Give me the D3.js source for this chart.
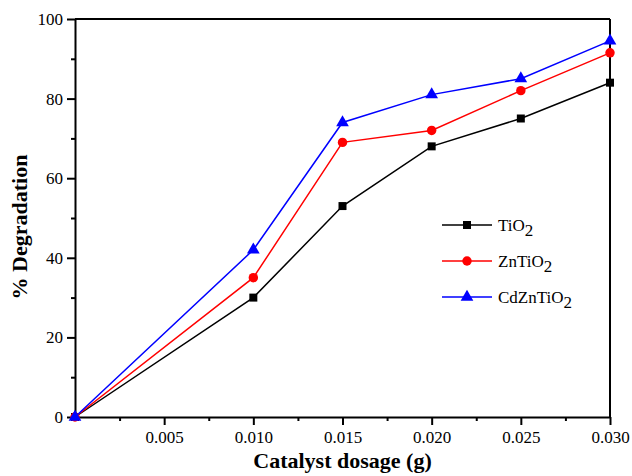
<!DOCTYPE html>
<html>
<head>
<meta charset="utf-8">
<script src="https://cdn.jsdelivr.net/npm/d3@7"></script>
<style>
  body { margin: 0; background: #fff; }
  svg text { font-family: 'Liberation Serif', 'DejaVu Serif', serif !important; }
</style>
</head>
<body>
<div id="plot"></div>
<script>
let svgWidth = 632;
let svgHeight = 476;
let margin = { top: 19, right: 22, bottom: 59, left: 75 };
let w = svgWidth - margin.left - margin.right;
let h = svgHeight - margin.top - margin.bottom;

// data
let dosage = [0, 0.010, 0.015, 0.020, 0.025, 0.030];
let tio2 = [0, 30, 53, 68, 75, 84];
let zntio2 = [0, 35, 69, 72, 82, 91.5];
let cdzntio2 = [0, 42, 74, 81, 85, 94.5];
let xTicks = [0.005, 0.010, 0.015, 0.020, 0.025, 0.030];
let yTicks = [0, 20, 40, 60, 80, 100];

let series = [
  { base: 'TiO', values: tio2, color: '#000000', shape: d3.symbolSquare, size: 64 },
  { base: 'ZnTiO', values: zntio2, color: '#ff0000', shape: d3.symbolCircle, size: 70 },
  { base: 'CdZnTiO', values: cdzntio2, color: '#0000ff', shape: d3.symbolTriangle, size: 70 }
];

let svg = d3.select('#plot')
  .append('svg')
    .attr('width', svgWidth)
    .attr('height', svgHeight);

let chart = svg.append('g')
  .attr('transform', `translate(${margin.left},${margin.top})`);

let x = d3.scaleLinear().domain([0, 0.030]).range([0, w]);
let y = d3.scaleLinear().domain([0, 100]).range([h, 0]);

// minor ticks
chart.append('g')
  .attr('transform', `translate(0,${h})`)
  .call(d3.axisBottom(x).tickValues(d3.range(0.0025, 0.030, 0.005)).tickSize(4).tickFormat(''))
  .call(g => g.select('.domain').remove())
  .selectAll('line').attr('stroke-width', 2);

chart.append('g')
  .call(d3.axisLeft(y).tickValues(d3.range(10, 100, 20)).tickSize(4).tickFormat(''))
  .call(g => g.select('.domain').remove())
  .selectAll('line').attr('stroke-width', 2);

// major axes
let xAxis = chart.append('g')
  .attr('transform', `translate(0,${h})`)
  .call(d3.axisBottom(x).tickValues(xTicks).tickSize(8).tickSizeOuter(0).tickPadding(6).tickFormat(d3.format('.3f')));

let yAxis = chart.append('g')
  .call(d3.axisLeft(y).tickValues(yTicks).tickSize(8).tickSizeOuter(0).tickPadding(4));

[xAxis, yAxis].forEach(a => {
  a.attr('font-family', null);
  a.select('.domain').attr('stroke-width', 2);
  a.selectAll('.tick line').attr('stroke-width', 2);
  a.selectAll('.tick text')
    .attr('font-size', 17)
    .attr('fill', '#000');
});

// top and right frame
chart.append('line').attr('x1', 0).attr('x2', w).attr('y1', 0).attr('y2', 0)
  .attr('stroke', '#000').attr('stroke-width', 2);
chart.append('line').attr('x1', w).attr('x2', w).attr('y1', 0).attr('y2', h)
  .attr('stroke', '#000').attr('stroke-width', 2);

let line = d3.line()
  .x((d, i) => x(dosage[i]))
  .y(d => y(d));

series.forEach(s => {
  chart.append('path')
    .datum(s.values)
    .attr('fill', 'none')
    .attr('stroke', s.color)
    .attr('stroke-width', 1.5)
    .attr('d', line);

  chart.selectAll(null)
    .data(s.values)
    .join('path')
      .attr('transform', (d, i) => `translate(${x(dosage[i])},${y(d)})`)
      .attr('d', d3.symbol().type(s.shape).size(s.size))
      .attr('fill', s.color);
});

// legend
let legend = chart.append('g')
  .attr('transform', `translate(${442 - margin.left},${225 - margin.top})`);

series.forEach((s, i) => {
  let row = legend.append('g').attr('transform', `translate(0,${i * 36})`);
  row.append('line').attr('x1', 0).attr('x2', 50)
    .attr('stroke', s.color).attr('stroke-width', 1.5);
  row.append('path')
    .attr('transform', 'translate(25,0)')
    .attr('d', d3.symbol().type(s.shape).size(s.size))
    .attr('fill', s.color);
  let t = row.append('text')
    .attr('x', 56).attr('y', 6)
    .attr('font-size', 17);
  t.append('tspan').text(s.base);
  t.append('tspan').attr('dy', 5).text('2');
});

// axis titles
svg.append('text')
  .attr('x', margin.left + w / 2)
  .attr('y', 468)
  .attr('text-anchor', 'middle')
  .attr('font-size', 22)
  .attr('font-weight', 'bold')
  .text('Catalyst dosage (g)');

svg.append('text')
  .attr('transform', 'translate(27,227) rotate(-90)')
  .attr('text-anchor', 'middle')
  .attr('font-size', 22)
  .attr('font-weight', 'bold')
  .text('% Degradation');
</script>
</body>
</html>
